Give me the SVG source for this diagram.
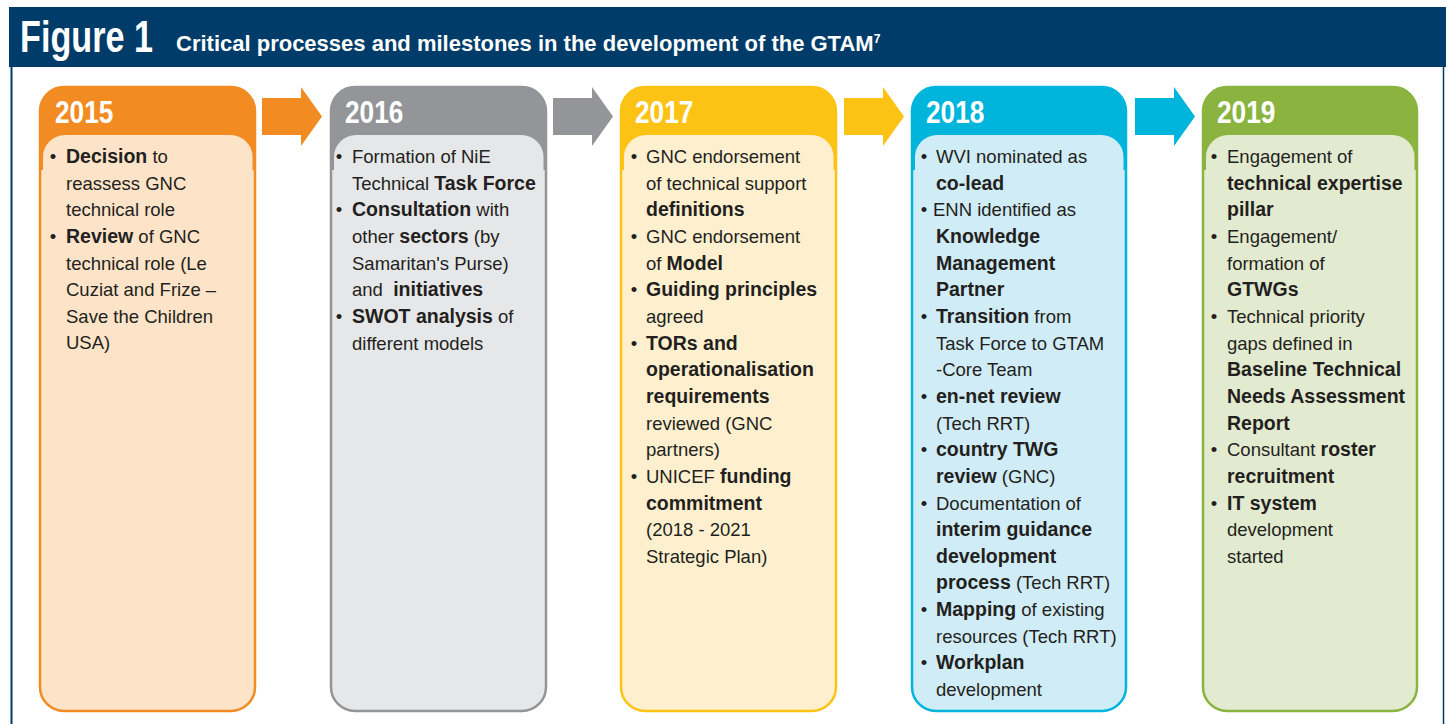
<svg xmlns="http://www.w3.org/2000/svg" width="1449" height="724" viewBox="0 0 1449 724">
<style>
.t{font-family:"Liberation Sans",Arial,sans-serif;font-size:18.5px;fill:#231f20}
.b{font-weight:bold;font-size:19.5px}
.bu{font-family:"Liberation Sans",Arial,sans-serif;font-size:18.5px;fill:#231f20;text-anchor:middle}
.yr{font-family:"Liberation Sans",Arial,sans-serif;font-weight:bold;font-size:32px;fill:#ffffff}
.hd{font-family:"Liberation Sans",Arial,sans-serif;font-weight:bold;fill:#ffffff}
</style>
<rect x="0" y="0" width="1449" height="724" fill="#ffffff"/>
<g id="frame">
<rect x="9" y="7" width="1437" height="60" fill="#003c69"/>
<line x1="11.5" y1="67" x2="11.5" y2="724" stroke="#003c69" stroke-width="2"/>
<line x1="1443.5" y1="67" x2="1443.5" y2="724" stroke="#003c69" stroke-width="1.5"/>
<text class="hd" font-size="45" transform="translate(20,52) scale(0.76,1)">Figure 1</text>
<text class="hd" x="176" y="51" font-size="22">Critical processes and milestones in the development of the GTAM<tspan font-size="12" dy="-8">7</tspan></text>
</g>
<g id="connectors">
<path d="M262,98 H301 V87 L322,116.5 L301,146 V135 H262 Z" fill="#f28c22"/>
<path d="M553,98 H592 V87 L613,116.5 L592,146 V135 H553 Z" fill="#939598"/>
<path d="M844,98 H883 V87 L904,116.5 L883,146 V135 H844 Z" fill="#fcc315"/>
<path d="M1135,98 H1174 V87 L1195,116.5 L1174,146 V135 H1135 Z" fill="#00b5dc"/>
</g>
<g id="y2015">
<rect x="40" y="87" width="215" height="624" rx="24" fill="#fde4c8" stroke="#f28c22" stroke-width="2.5"/>
<path d="M40,111 A24,24 0 0 1 64,87 H231 A24,24 0 0 1 255,111 V170 H40 Z" fill="#f28c22"/>
<rect x="43" y="135" width="209.5" height="560" rx="22" fill="#fde4c8"/>
<text class="yr" transform="translate(55,123) scale(0.82,1)">2015</text>
<text class="bu" x="53" y="163">•</text>
<text class="t" x="66" y="163"><tspan class="b">Decision</tspan> to</text>
<text class="t" x="66" y="189.6">reassess GNC</text>
<text class="t" x="66" y="216.3">technical role</text>
<text class="bu" x="53" y="243">•</text>
<text class="t" x="66" y="243"><tspan class="b">Review</tspan> of GNC</text>
<text class="t" x="66" y="269.6">technical role (Le</text>
<text class="t" x="66" y="296.3">Cuziat and Frize –</text>
<text class="t" x="66" y="322.6">Save the Children</text>
<text class="t" x="66" y="349.2">USA)</text>
</g>
<g id="y2016">
<rect x="331" y="87" width="215" height="624" rx="24" fill="#e6e7e8" stroke="#939598" stroke-width="2.5"/>
<path d="M331,111 A24,24 0 0 1 355,87 H522 A24,24 0 0 1 546,111 V170 H331 Z" fill="#939598"/>
<rect x="334" y="135" width="209.5" height="560" rx="22" fill="#e6e7e8"/>
<text class="yr" transform="translate(345,123) scale(0.82,1)">2016</text>
<text class="bu" x="339" y="163">•</text>
<text class="t" x="352" y="163">Formation of NiE</text>
<text class="t" x="352" y="189.6">Technical <tspan class="b">Task Force</tspan></text>
<text class="bu" x="339" y="216.3">•</text>
<text class="t" x="352" y="216.3"><tspan class="b">Consultation</tspan> with</text>
<text class="t" x="352" y="243">other <tspan class="b">sectors</tspan> (by</text>
<text class="t" x="352" y="269.6">Samaritan's Purse)</text>
<text class="t" x="352" y="296.3" xml:space="preserve">and  <tspan class="b">initiatives</tspan></text>
<text class="bu" x="339" y="322.9">•</text>
<text class="t" x="352" y="322.9"><tspan class="b">SWOT analysis</tspan> of</text>
<text class="t" x="352" y="349.6">different models</text>
</g>
<g id="y2017">
<rect x="621" y="87" width="215" height="624" rx="24" fill="#fef0cf" stroke="#fcc315" stroke-width="2.5"/>
<path d="M621,111 A24,24 0 0 1 645,87 H812 A24,24 0 0 1 836,111 V170 H621 Z" fill="#fcc315"/>
<rect x="624" y="135" width="209.5" height="560" rx="22" fill="#fef0cf"/>
<text class="yr" transform="translate(635,123) scale(0.82,1)">2017</text>
<text class="bu" x="634" y="163">•</text>
<text class="t" x="646" y="163">GNC endorsement</text>
<text class="t" x="646" y="189.6">of technical support</text>
<text class="t" x="646" y="216.3"><tspan class="b">definitions</tspan></text>
<text class="bu" x="634" y="243">•</text>
<text class="t" x="646" y="243">GNC endorsement</text>
<text class="t" x="646" y="269.6">of <tspan class="b">Model</tspan></text>
<text class="bu" x="634" y="296.3">•</text>
<text class="t" x="646" y="296.3"><tspan class="b">Guiding principles</tspan></text>
<text class="t" x="646" y="322.9">agreed</text>
<text class="bu" x="634" y="349.6">•</text>
<text class="t" x="646" y="349.6"><tspan class="b">TORs and</tspan></text>
<text class="t" x="646" y="376.2"><tspan class="b">operationalisation</tspan></text>
<text class="t" x="646" y="402.9"><tspan class="b">requirements</tspan></text>
<text class="t" x="646" y="429.5">reviewed (GNC</text>
<text class="t" x="646" y="456.2">partners)</text>
<text class="bu" x="634" y="482.8">•</text>
<text class="t" x="646" y="482.8">UNICEF <tspan class="b">funding</tspan></text>
<text class="t" x="646" y="509.5"><tspan class="b">commitment</tspan></text>
<text class="t" x="646" y="536.1">(2018 - 2021</text>
<text class="t" x="646" y="562.8">Strategic Plan)</text>
</g>
<g id="y2018">
<rect x="912" y="87" width="214" height="624" rx="24" fill="#d0ecf6" stroke="#00b5dc" stroke-width="2.5"/>
<path d="M912,111 A24,24 0 0 1 936,87 H1102 A24,24 0 0 1 1126,111 V170 H912 Z" fill="#00b5dc"/>
<rect x="915" y="135" width="208.5" height="560" rx="22" fill="#d0ecf6"/>
<text class="yr" transform="translate(926,123) scale(0.82,1)">2018</text>
<text class="bu" x="924" y="163">•</text>
<text class="t" x="936" y="163">WVI nominated as</text>
<text class="t" x="936" y="189.6"><tspan class="b">co-lead</tspan></text>
<text class="bu" x="924" y="216.3">•</text>
<text class="t" x="933" y="216.3">ENN identified as</text>
<text class="t" x="936" y="243"><tspan class="b">Knowledge</tspan></text>
<text class="t" x="936" y="269.6"><tspan class="b">Management</tspan></text>
<text class="t" x="936" y="296.3"><tspan class="b">Partner</tspan></text>
<text class="bu" x="924" y="322.9">•</text>
<text class="t" x="936" y="322.9"><tspan class="b">Transition</tspan> from</text>
<text class="t" x="936" y="349.6">Task Force to GTAM</text>
<text class="t" x="936" y="376.2">-Core Team</text>
<text class="bu" x="924" y="402.9">•</text>
<text class="t" x="936" y="402.9"><tspan class="b">en-net review</tspan></text>
<text class="t" x="936" y="429.5">(Tech RRT)</text>
<text class="bu" x="924" y="456.2">•</text>
<text class="t" x="936" y="456.2"><tspan class="b">country TWG</tspan></text>
<text class="t" x="936" y="482.8"><tspan class="b">review</tspan> (GNC)</text>
<text class="bu" x="924" y="509.5">•</text>
<text class="t" x="936" y="509.5">Documentation of</text>
<text class="t" x="936" y="536.1"><tspan class="b">interim guidance</tspan></text>
<text class="t" x="936" y="562.8"><tspan class="b">development</tspan></text>
<text class="t" x="936" y="589.4"><tspan class="b">process</tspan> (Tech RRT)</text>
<text class="bu" x="924" y="616.1">•</text>
<text class="t" x="936" y="616.1"><tspan class="b">Mapping</tspan> of existing</text>
<text class="t" x="936" y="642.7">resources (Tech RRT)</text>
<text class="bu" x="924" y="669.4">•</text>
<text class="t" x="936" y="669.4"><tspan class="b">Workplan</tspan></text>
<text class="t" x="936" y="696">development</text>
</g>
<g id="y2019">
<rect x="1203" y="87" width="214" height="624" rx="24" fill="#e2eacf" stroke="#8ab43f" stroke-width="2.5"/>
<path d="M1203,111 A24,24 0 0 1 1227,87 H1393 A24,24 0 0 1 1417,111 V170 H1203 Z" fill="#8ab43f"/>
<rect x="1206" y="135" width="208.5" height="560" rx="22" fill="#e2eacf"/>
<text class="yr" transform="translate(1217,123) scale(0.82,1)">2019</text>
<text class="bu" x="1214" y="163">•</text>
<text class="t" x="1227" y="163">Engagement of</text>
<text class="t" x="1227" y="189.6"><tspan class="b">technical expertise</tspan></text>
<text class="t" x="1227" y="216.3"><tspan class="b">pillar</tspan></text>
<text class="bu" x="1214" y="243">•</text>
<text class="t" x="1227" y="243">Engagement/</text>
<text class="t" x="1227" y="269.6">formation of</text>
<text class="t" x="1227" y="296.3"><tspan class="b">GTWGs</tspan></text>
<text class="bu" x="1214" y="322.9">•</text>
<text class="t" x="1227" y="322.9">Technical priority</text>
<text class="t" x="1227" y="349.6">gaps defined in</text>
<text class="t" x="1227" y="376.2"><tspan class="b">Baseline Technical</tspan></text>
<text class="t" x="1227" y="402.9"><tspan class="b">Needs Assessment</tspan></text>
<text class="t" x="1227" y="429.5"><tspan class="b">Report</tspan></text>
<text class="bu" x="1214" y="456.2">•</text>
<text class="t" x="1227" y="456.2">Consultant <tspan class="b">roster</tspan></text>
<text class="t" x="1227" y="482.8"><tspan class="b">recruitment</tspan></text>
<text class="bu" x="1214" y="509.5">•</text>
<text class="t" x="1227" y="509.5"><tspan class="b">IT system</tspan></text>
<text class="t" x="1227" y="536.1">development</text>
<text class="t" x="1227" y="562.8">started</text>
</g>
</svg>
